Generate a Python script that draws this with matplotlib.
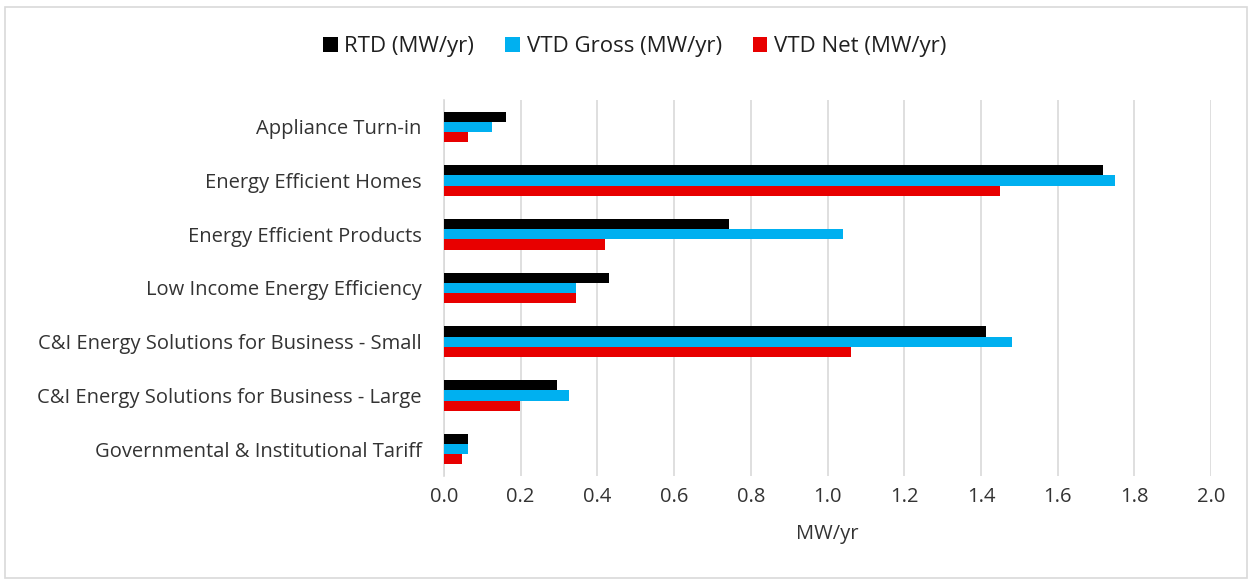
import numpy as np
import matplotlib
matplotlib.use('Agg')
import matplotlib.pyplot as plt
from matplotlib.patches import Rectangle

programs = [
    'Appliance Turn-in',
    'Energy Efficient Homes',
    'Energy Efficient Products',
    'Low Income Energy Efficiency',
    'C&I Energy Solutions for Business - Small',
    'C&I Energy Solutions for Business - Large',
    'Governmental & Institutional Tariff',
]
rtd = [0.163, 1.719, 0.742, 0.429, 1.413, 0.294, 0.063]
vtd_gross = [0.125, 1.750, 1.040, 0.345, 1.480, 0.325, 0.063]
vtd_net = [0.063, 1.449, 0.419, 0.345, 1.062, 0.199, 0.048]
series_names = ['RTD (MW/yr)', 'VTD Gross (MW/yr)', 'VTD Net (MW/yr)']
colors = ['#000000', '#00B0F0', '#E80000']

plt.rcParams['font.family'] = ['Open Sans', 'DejaVu Sans']

fig = plt.figure(figsize=(12.52, 5.80), dpi=100)
ax = fig.add_axes([0.3546, 0.1793, 0.6127, 0.6483])

y = np.arange(len(programs))
h = 0.19
for i, (vals, name, c) in enumerate(zip([rtd, vtd_gross, vtd_net], series_names, colors)):
    ax.barh(y + (i - 1) * h, vals, height=h, color=c, label=name, zorder=3)

ax.set_xlim(0, 2.0)
ax.set_ylim(len(programs) - 0.5, -0.5)
ax.set_xticks(np.arange(0, 2.01, 0.2))
ax.set_xticklabels([f'{v:.1f}' for v in np.arange(0, 2.01, 0.2)])
ax.set_yticks(y)
ax.set_yticklabels(programs)
ax.tick_params(length=0, labelsize=14.5, colors='#333333')
ax.tick_params(axis='y', pad=16)
ax.tick_params(axis='x', pad=8)
ax.grid(axis='x', color='#d9d9d9', linewidth=1.2, zorder=0)
for s in ['top', 'right', 'bottom']:
    ax.spines[s].set_visible(False)
ax.spines['left'].set_color('#d9d9d9')
ax.spines['left'].set_linewidth(1.2)
ax.set_xlabel('MW/yr', fontsize=14.5, color='#333333', labelpad=12)

fig.legend(loc='center', bbox_to_anchor=(0.507, 0.92), ncol=3, frameon=False,
           fontsize=16, handlelength=0.65, handleheight=0.65, handletextpad=0.3,
           columnspacing=1.4, labelcolor='#202020')

fig.patches.append(Rectangle((0.004, 0.004), 0.992, 0.984, transform=fig.transFigure,
                             fill=False, edgecolor='#d9d9d9', linewidth=1.2))

fig.savefig('out.png', dpi=100, facecolor='white')
plt.close(fig)
